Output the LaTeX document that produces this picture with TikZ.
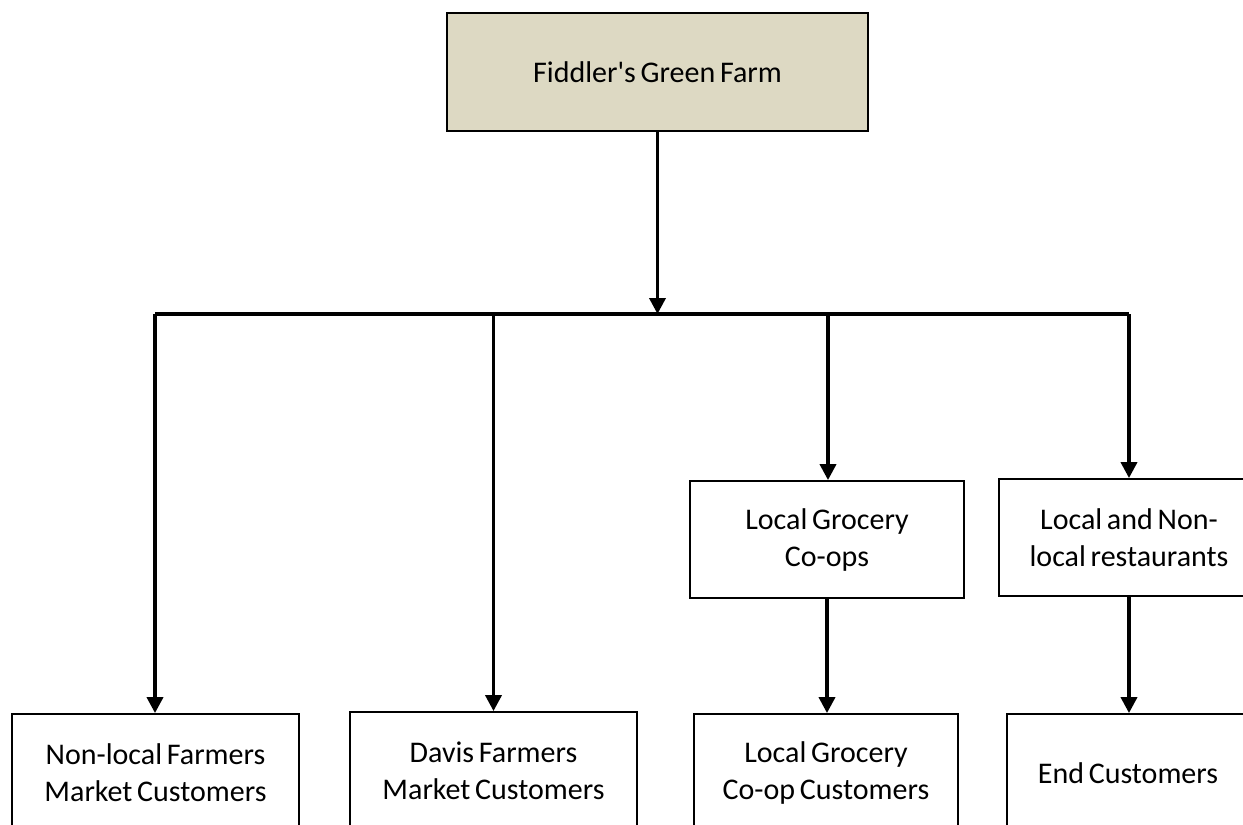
\documentclass[tikz,border=0pt]{standalone}
\usepackage{fontspec}
\setmainfont{Carlito}[WordSpace=0.7]
\usetikzlibrary{arrows.meta}
\begin{document}
\begin{tikzpicture}[x=1pt,y=-1pt,
  boxstyle/.style={draw=black,line width=1.8pt,fill=white,inner sep=0pt,align=center,
    font=\fontsize{30}{37}\selectfont},
  conn/.style={line width=3.6pt,-{Triangle[width=16pt,length=16pt]}},
  barline/.style={line width=3.6pt}]
\useasboundingbox (0,0) rectangle (1243,825);
\clip (0,0) rectangle (1243,825);
\fill[white] (0,0) rectangle (1243,825);
% top
\node[boxstyle,fill={rgb,255:red,221;green,217;blue,195},minimum width=421pt,minimum height=118pt,
  font=\fontsize{30}{36}\selectfont] (farm) at (657.5,72) {Fiddler\textquotesingle s Green Farm};
% middle
\node[boxstyle,minimum width=274pt,minimum height=117pt] (coops) at (827,539.5) {Local Grocery\\Co-ops};
\node[boxstyle,minimum width=260pt,minimum height=117pt] (rest) at (1129,537.5) {Local and Non-\\local restaurants};
% bottom
\node[boxstyle,minimum width=287pt,minimum height=118pt] (nonlocal) at (155.5,773) {Non-local Farmers\\Market Customers};
\node[boxstyle,minimum width=287pt,minimum height=118pt] (davis) at (493.5,771) {Davis Farmers\\Market Customers};
\node[boxstyle,minimum width=264pt,minimum height=118pt] (coopcust) at (826,773) {Local Grocery\\Co-op Customers};
\node[boxstyle,minimum width=242pt,minimum height=118pt] (endcust) at (1128,773) {End Customers};
% bar
\coordinate (barL) at (155,314);
\coordinate (barR) at (1129,314);
\coordinate (barM) at (657.5,314);
\draw[barline] (barL) -- (barR);
\draw[conn] (farm.south) -- (barM);
\draw[conn] (barL) -- (barL |- nonlocal.north);
\draw[conn] (davis.north |- barL) -- (davis.north);
\draw[conn] (barL -| 828,0) -- (828,0 |- coops.north);
\draw[conn] (barR) -- (barR |- rest.north);
\draw[conn] (coops.south) -- (coops.south |- coopcust.north);
\draw[conn] (rest.south) -- (rest.south |- endcust.north);
\end{tikzpicture}
\end{document}
